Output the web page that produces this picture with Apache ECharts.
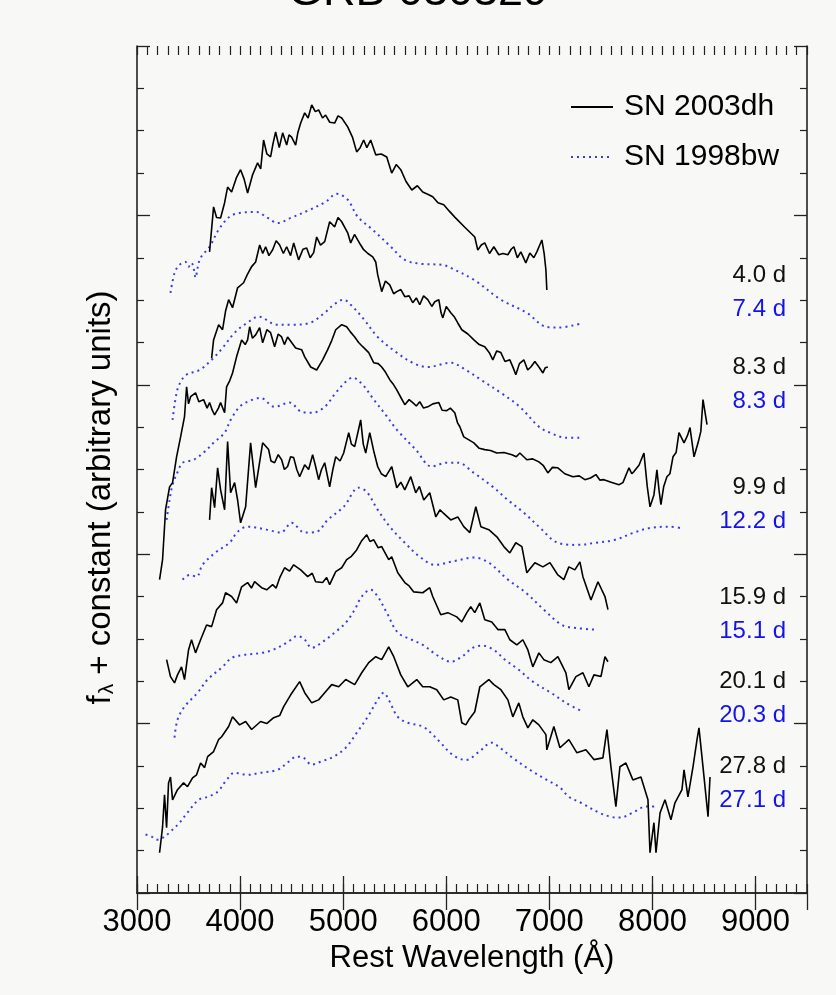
<!DOCTYPE html>
<html>
<head>
    <meta charset="utf-8">
    <title>GRB 030329</title>
    <script src="https://cdn.jsdelivr.net/npm/echarts@6/dist/echarts.min.js"></script>
    <style>
        html, body { margin: 0; padding: 0; background: #f8f9f7; }
        #main { width: 836px; height: 995px; }
    </style>
</head>
<body>
<div id="main"></div>
<script type="text/javascript">
    // epochs written next to each pair of spectra (top to bottom)
    var ages2003dh = ['4.0 d', '8.3 d', '9.9 d', '15.9 d', '20.1 d', '27.8 d'];
    var ages1998bw = ['7.4 d', '8.3 d', '12.2 d', '15.1 d', '20.3 d', '27.1 d'];
    var xTickLabels = [3000, 4000, 5000, 6000, 7000, 8000, 9000];

    // SN 2003dh spectra: [rest wavelength (A), f_lambda + constant]
    var dh_04 = [[3704,15.14],[3743,16.20],[3772,15.95],[3811,15.94],[3850,16.30],[3879,16.67],[3918,16.55],[3966,16.90],[4005,17.08],[4040,16.85],[4073,16.53],[4120,16.95],[4170,17.24],[4200,17.10],[4228,17.78],[4260,17.45],[4296,17.38],[4320,17.70],[4345,17.97],[4380,17.60],[4413,17.95],[4452,17.66],[4475,17.90],[4500,17.85],[4539,17.66],[4560,17.95],[4588,18.18],[4627,18.42],[4660,18.30],[4695,18.61],[4730,18.45],[4762,18.49],[4800,18.30],[4830,18.37],[4870,18.20],[4918,18.18],[4950,18.35],[4986,18.30],[5044,18.09],[5090,17.85],[5131,17.50],[5165,17.60],[5199,17.78],[5230,17.60],[5267,17.78],[5316,17.43],[5370,17.45],[5423,17.38],[5471,17.00],[5515,17.20],[5559,17.08],[5610,16.80],[5666,16.60],[5720,16.70],[5772,16.55],[5820,16.50],[5869,16.44],[5920,16.30],[5976,16.25],[6030,16.10],[6083,15.96],[6180,15.72],[6277,15.49],[6306,15.18],[6340,15.30],[6374,15.35],[6420,15.10],[6462,15.26],[6510,15.07],[6550,15.10],[6598,15.07],[6630,15.20],[6656,15.26],[6690,15.00],[6724,15.14],[6772,14.88],[6811,15.11],[6850,15.00],[6879,15.14],[6928,15.42],[6950,15.10],[6967,14.71],[6976,14.24]];
    var dh_08 = [[3724,12.63],[3743,13.06],[3792,13.42],[3830,13.30],[3860,13.75],[3889,14.01],[3927,13.82],[3976,14.29],[4034,14.41],[4070,14.60],[4112,14.79],[4151,14.90],[4190,15.30],[4220,15.10],[4248,15.26],[4280,15.05],[4316,15.19],[4350,15.40],[4384,15.30],[4420,15.10],[4452,15.26],[4490,15.05],[4520,15.35],[4568,14.95],[4610,15.20],[4646,15.23],[4680,15.00],[4714,15.12],[4743,15.49],[4780,15.30],[4821,15.38],[4869,15.85],[4918,15.73],[4950,15.95],[4986,15.85],[5044,15.59],[5073,15.35],[5110,15.55],[5141,15.42],[5170,15.30],[5199,15.19],[5240,15.10],[5287,15.02],[5316,14.90],[5335,14.60],[5374,14.20],[5410,14.45],[5452,14.36],[5490,14.15],[5520,14.20],[5560,14.25],[5598,14.08],[5640,14.10],[5675,13.94],[5710,14.05],[5743,13.89],[5780,14.10],[5821,14.01],[5860,13.85],[5889,13.96],[5928,14.01],[5950,13.70],[5967,13.58],[6000,13.85],[6044,13.70],[6080,13.60],[6112,13.46],[6151,13.30],[6210,13.20],[6268,13.06],[6320,12.95],[6374,12.90],[6420,12.75],[6452,12.59],[6490,12.80],[6530,12.76],[6570,12.55],[6617,12.59],[6650,12.40],[6675,12.24],[6710,12.50],[6753,12.59],[6790,12.35],[6821,12.42],[6860,12.55],[6899,12.42],[6938,12.28],[6960,12.40],[6986,12.42]];
    var dh_10 = [[3219,7.40],[3248,7.87],[3277,9.05],[3316,9.59],[3345,9.69],[3384,10.30],[3423,10.77],[3461,11.25],[3481,11.95],[3500,11.55],[3520,11.72],[3568,11.81],[3600,11.60],[3646,11.65],[3680,11.45],[3704,11.58],[3730,11.40],[3753,11.29],[3790,11.45],[3811,11.58],[3850,11.34],[3869,11.95],[3900,12.10],[3927,12.28],[3966,12.66],[4015,13.06],[4050,12.95],[4073,13.06],[4093,13.37],[4120,13.10],[4151,13.18],[4190,13.35],[4219,12.99],[4260,13.30],[4296,13.23],[4335,12.90],[4370,13.20],[4403,13.13],[4430,12.95],[4461,13.13],[4500,13.00],[4539,12.87],[4597,12.83],[4627,12.66],[4685,12.42],[4743,12.35],[4801,12.59],[4850,12.83],[4890,13.05],[4928,13.30],[4986,13.42],[5034,13.37],[5070,13.25],[5112,13.13],[5150,13.00],[5190,12.90],[5248,12.76],[5297,12.52],[5340,12.50],[5374,12.42],[5410,12.30],[5452,12.12],[5490,12.00],[5520,11.88],[5560,11.70],[5598,11.53],[5640,11.65],[5675,11.58],[5710,11.50],[5743,11.60],[5780,11.45],[5821,11.48],[5870,11.55],[5928,11.58],[5960,11.40],[6005,11.39],[6040,11.45],[6083,11.34],[6110,11.10],[6132,11.01],[6170,10.77],[6220,10.70],[6268,10.63],[6320,10.50],[6374,10.47],[6430,10.45],[6491,10.39],[6560,10.40],[6637,10.35],[6680,10.30],[6714,10.39],[6782,10.23],[6840,10.25],[6899,10.18],[6940,10.10],[6986,9.92],[7030,10.05],[7083,10.04],[7150,9.90],[7229,9.83],[7290,9.85],[7345,9.76],[7400,9.80],[7452,9.88],[7490,9.75],[7530,9.76],[7600,9.70],[7675,9.64],[7714,9.69],[7773,10.04],[7800,9.90],[7821,9.95],[7870,10.10],[7918,10.39],[7950,9.60],[7977,9.12],[8015,9.40],[8044,9.99],[8065,9.50],[8083,9.17],[8110,9.60],[8141,9.83],[8170,9.90],[8200,10.30],[8230,10.40],[8258,10.87],[8307,10.63],[8340,10.80],[8365,10.99],[8404,10.30],[8443,10.63],[8470,10.90],[8491,11.65],[8530,11.06]];
    var dh_16 = [[3704,8.81],[3724,9.57],[3753,9.10],[3782,10.04],[3811,9.52],[3850,9.05],[3879,10.66],[3908,9.45],[3947,9.69],[3976,9.28],[4005,8.74],[4054,9.12],[4102,10.63],[4151,9.57],[4219,10.63],[4277,10.47],[4300,10.20],[4335,10.16],[4370,10.35],[4403,10.23],[4430,10.00],[4461,10.07],[4490,10.30],[4520,10.28],[4550,10.00],[4578,9.83],[4627,10.11],[4665,10.00],[4704,10.35],[4730,10.10],[4762,9.76],[4790,10.00],[4821,10.16],[4869,9.59],[4900,10.00],[4928,10.30],[4970,10.20],[5005,10.39],[5054,10.87],[5080,10.60],[5112,10.54],[5170,11.17],[5195,10.60],[5219,10.39],[5258,10.87],[5300,10.40],[5335,10.07],[5370,9.90],[5413,9.83],[5471,10.07],[5520,9.57],[5560,9.70],[5598,9.52],[5656,9.83],[5704,9.45],[5740,9.60],[5782,9.28],[5840,9.45],[5899,8.88],[5940,9.05],[5967,8.98],[6044,8.81],[6112,8.88],[6170,8.65],[6229,8.51],[6287,9.12],[6336,8.65],[6413,8.58],[6491,8.41],[6559,8.18],[6617,8.03],[6675,8.27],[6734,8.18],[6782,7.56],[6860,7.80],[6938,7.70],[7006,7.80],[7083,7.51],[7141,7.40],[7190,7.70],[7248,7.63],[7297,7.82],[7326,7.47],[7404,6.92],[7472,7.35],[7540,7.00],[7569,6.69]];
    var dh_20 = [[3287,5.51],[3325,5.11],[3364,4.96],[3393,5.15],[3432,5.34],[3461,5.04],[3500,5.74],[3529,5.98],[3568,5.67],[3617,5.98],[3675,6.33],[3724,6.29],[3772,6.69],[3830,6.85],[3859,7.09],[3918,7.00],[3966,6.85],[4015,7.23],[4073,7.33],[4110,7.20],[4141,7.35],[4209,7.21],[4258,7.16],[4316,7.28],[4350,7.20],[4384,7.44],[4432,7.68],[4480,7.60],[4520,7.75],[4588,7.63],[4656,7.47],[4700,7.55],[4733,7.35],[4801,7.33],[4840,7.45],[4869,7.28],[4928,7.59],[4986,7.68],[5034,7.87],[5080,7.95],[5131,8.10],[5180,8.32],[5229,8.46],[5260,8.30],[5297,8.34],[5340,8.15],[5374,8.18],[5442,7.87],[5471,7.94],[5530,7.56],[5598,7.33],[5640,7.25],[5685,7.11],[5772,7.09],[5840,7.21],[5869,7.00],[5947,6.57],[6015,6.62],[6102,6.52],[6151,6.40],[6200,6.62],[6238,6.76],[6277,6.62],[6326,6.85],[6374,6.45],[6442,6.40],[6501,6.22],[6569,6.22],[6617,5.98],[6685,5.86],[6743,5.98],[6792,5.74],[6840,5.34],[6899,5.67],[6947,5.51],[7015,5.44],[7083,5.58],[7161,5.20],[7190,4.80],[7258,5.11],[7326,5.20],[7384,4.87],[7433,5.15],[7501,5.11],[7540,5.58],[7569,5.46]];
    var dh_28 = [[3219,0.95],[3248,1.56],[3267,2.32],[3287,1.54],[3306,2.60],[3325,2.74],[3345,2.20],[3393,2.44],[3452,2.60],[3490,2.51],[3539,2.72],[3578,2.79],[3617,3.07],[3656,2.96],[3685,3.22],[3743,3.34],[3791,3.62],[3821,3.69],[3889,3.93],[3927,4.16],[3995,3.97],[4054,4.05],[4112,3.86],[4199,4.05],[4258,4.00],[4326,4.14],[4384,4.19],[4423,4.40],[4491,4.68],[4578,4.99],[4627,4.73],[4695,4.49],[4762,4.56],[4821,4.73],[4889,4.92],[4957,4.87],[5025,5.04],[5112,4.92],[5180,5.20],[5248,5.44],[5316,5.58],[5374,5.51],[5442,5.81],[5491,5.58],[5559,5.15],[5627,4.87],[5714,5.04],[5772,4.87],[5840,4.87],[5908,4.80],[5976,4.56],[6044,4.63],[6112,4.56],[6151,4.02],[6190,3.97],[6219,4.09],[6277,4.28],[6326,4.87],[6413,5.04],[6462,4.92],[6530,4.80],[6598,4.56],[6646,4.16],[6704,4.49],[6743,4.16],[6792,3.90],[6840,4.09],[6899,3.97],[6967,3.74],[6976,3.38],[7044,3.93],[7103,3.43],[7190,3.62],[7268,3.31],[7355,3.38],[7433,3.15],[7520,3.19],[7559,3.86],[7598,2.98],[7646,2.04],[7685,2.98],[7743,3.07],[7811,2.67],[7889,2.74],[7957,2.20],[7977,0.95],[8015,1.66],[8035,0.95],[8074,1.89],[8122,2.20],[8180,1.73],[8219,2.13],[8287,2.44],[8307,2.91],[8345,2.27],[8394,2.98],[8433,3.62],[8452,3.90],[8491,2.98],[8540,1.80],[8559,2.74]];

    // SN 1998bw spectra
    var bw_07 = [[3325,14.17],[3364,14.64],[3403,14.81],[3442,14.88],[3471,14.90],[3500,14.79],[3529,14.88],[3549,14.76],[3568,14.53],[3588,14.76],[3617,15.00],[3704,15.26],[3792,15.66],[3898,15.97],[4005,16.06],[4160,16.08],[4267,15.94],[4364,15.82],[4491,15.94],[4656,16.11],[4830,16.32],[4937,16.51],[5044,16.37],[5141,15.97],[5287,15.66],[5462,15.26],[5598,14.95],[5743,14.86],[5967,14.83],[6044,14.76],[6268,14.48],[6530,14.01],[6782,13.70],[6967,13.37],[7083,13.35],[7326,13.46]];
    var bw_08 = [[3345,11.17],[3384,11.81],[3423,12.07],[3481,12.24],[3607,12.35],[3724,12.59],[3830,12.87],[3947,13.23],[4073,13.47],[4180,13.61],[4355,13.42],[4520,13.42],[4685,13.47],[4821,13.70],[4908,13.89],[5005,14.01],[5073,13.89],[5190,13.58],[5335,13.13],[5520,12.76],[5675,12.52],[5821,12.42],[6044,12.52],[6190,12.35],[6336,12.12],[6530,11.81],[6714,11.48],[6899,11.01],[7006,10.87],[7161,10.75],[7307,10.75]];
    var bw_12 = [[3287,8.81],[3316,9.28],[3345,9.64],[3403,9.99],[3442,10.16],[3549,10.23],[3656,10.42],[3743,10.63],[3850,10.87],[3908,11.17],[3995,11.48],[4073,11.60],[4199,11.69],[4335,11.48],[4481,11.58],[4597,11.36],[4704,11.34],[4821,11.48],[4928,11.81],[5025,12.07],[5093,12.17],[5190,12.00],[5297,11.65],[5413,11.29],[5520,10.94],[5704,10.47],[5860,10.07],[6005,10.16],[6112,10.16],[6268,9.92],[6452,9.59],[6598,9.28],[6753,8.98],[6899,8.65],[7083,8.27],[7268,8.22],[7452,8.27],[7637,8.34],[7821,8.51],[7977,8.62],[8161,8.65],[8268,8.62]];
    var bw_15 = [[3442,7.40],[3510,7.51],[3578,7.47],[3636,7.75],[3772,8.06],[3898,8.27],[3976,8.53],[4073,8.65],[4258,8.58],[4394,8.51],[4500,8.74],[4627,8.51],[4743,8.53],[4850,8.81],[5005,9.12],[5151,9.57],[5229,9.47],[5335,9.05],[5452,8.65],[5598,8.27],[5743,7.94],[5889,7.75],[6083,7.84],[6268,7.92],[6413,7.80],[6598,7.40],[6772,7.09],[6947,6.69],[7122,6.33],[7258,6.26],[7433,6.22]];
    var bw_20 = [[3364,3.67],[3393,4.09],[3461,4.40],[3588,4.73],[3685,5.04],[3830,5.34],[3918,5.55],[4034,5.62],[4209,5.67],[4316,5.74],[4452,5.91],[4559,6.07],[4627,5.98],[4695,5.79],[4801,5.93],[4918,6.15],[5025,6.38],[5112,6.69],[5180,7.00],[5267,7.16],[5335,7.00],[5423,6.62],[5530,6.15],[5666,5.98],[5772,5.86],[5908,5.62],[6044,5.46],[6151,5.58],[6258,5.79],[6355,5.84],[6462,5.74],[6569,5.51],[6704,5.27],[6840,4.99],[7015,4.73],[7161,4.49],[7326,4.28]];
    var bw_27 = [[3083,1.38],[3141,1.33],[3199,1.26],[3267,1.33],[3325,1.45],[3413,1.66],[3490,1.90],[3597,2.20],[3685,2.27],[3782,2.39],[3869,2.67],[3947,2.84],[4073,2.79],[4199,2.84],[4364,2.91],[4471,3.10],[4549,3.22],[4617,3.19],[4695,3.03],[4782,3.10],[4908,3.22],[5025,3.43],[5131,3.78],[5238,4.16],[5335,4.56],[5394,4.73],[5442,4.56],[5530,4.16],[5627,4.02],[5772,3.93],[5869,3.74],[5937,3.57],[6064,3.26],[6190,3.14],[6316,3.33],[6442,3.55],[6520,3.43],[6646,3.19],[6811,2.91],[6976,2.67],[7103,2.49],[7190,2.27],[7307,2.13],[7481,1.90],[7598,1.80],[7685,1.78],[7811,1.90],[7938,2.04],[8035,2.04]];

    var spectra2003dh = [dh_04, dh_08, dh_10, dh_16, dh_20, dh_28];
    var spectra1998bw = [bw_07, bw_08, bw_12, bw_15, bw_20, bw_27];

    var FONT = '"Liberation Sans", Arial, sans-serif';
    var BLUE_LINE = '#3b3be6';
    var BLUE_TEXT = '#1414e8';

    var myChart = echarts.init(document.getElementById('main'));

    var series = [];
    spectra2003dh.forEach(function (d) {
        series.push({
            name: 'SN 2003dh', type: 'line', data: d, symbol: 'none',
            lineStyle: { color: '#000', width: 1.6 }, itemStyle: { color: '#000' },
            silent: true, z: 3
        });
    });
    spectra1998bw.forEach(function (d) {
        series.push({
            name: 'SN 1998bw', type: 'line', data: d, symbol: 'none', smooth: 0.35,
            lineStyle: { color: BLUE_LINE, width: 2, type: [2, 4] }, itemStyle: { color: BLUE_LINE },
            silent: true, z: 2
        });
    });

    // age labels on the right (pixel centres of each pair)
    var labelY = [275, 367, 487, 597, 681, 766];
    var graphics = [{
        type: 'text', left: 'center', top: -30,
        style: { text: 'GRB 030329', font: '45px ' + FONT, fill: '#000' }
    }];
    labelY.forEach(function (y, i) {
        graphics.push({ type: 'text', x: 786, y: y, style: { text: ages2003dh[i], font: '24px ' + FONT, fill: '#111', align: 'right', verticalAlign: 'middle' } });
        graphics.push({ type: 'text', x: 786, y: y + 34, style: { text: ages1998bw[i], font: '24px ' + FONT, fill: BLUE_TEXT, align: 'right', verticalAlign: 'middle' } });
    });

    var xBase = { type: 'value', min: 3000, max: 9500, splitLine: { show: false } };
    var yBase = { type: 'value', min: 0, max: 20, interval: 4, splitLine: { show: false }, axisLabel: { show: false } };
    var axisLine = { show: true, lineStyle: { color: '#222', width: 1.6 } };

    var option = {
        backgroundColor: '#f8f9f7',
        animation: false,
        textStyle: { fontFamily: FONT },
        grid: { left: 137, right: 29, top: 46, bottom: 102 },
        legend: {
            data: ['SN 2003dh', 'SN 1998bw'], orient: 'vertical', left: 565, top: 87,
            itemWidth: 42, itemHeight: 14, itemGap: 20,
            itemStyle: { opacity: 0 },
            textStyle: { fontSize: 30, color: '#000', fontFamily: FONT, padding: [0, 0, 0, 6] }
        },
        xAxis: [
            Object.assign({}, xBase, {
                position: 'bottom', interval: 1000, axisLine: axisLine,
                axisTick: { inside: true, length: 17, lineStyle: { color: '#222', width: 1.3 } },
                axisLabel: {
                    fontSize: 31, color: '#000', margin: 14, showMaxLabel: false,
                    formatter: function (v) { return xTickLabels.indexOf(v) >= 0 ? String(v) : ''; }
                },
                name: 'Rest Wavelength (Å)', nameLocation: 'middle', nameGap: 47,
                nameTextStyle: { fontSize: 31, color: '#000' }
            }),
            Object.assign({}, xBase, {
                position: 'top', interval: 1000, axisLine: axisLine,
                axisTick: { inside: true, length: 17, lineStyle: { color: '#222', width: 1.3 } },
                axisLabel: { show: false }
            }),
            Object.assign({}, xBase, {
                position: 'bottom', interval: 100, axisLine: { show: false },
                axisTick: { inside: true, length: 9, lineStyle: { color: '#222', width: 1.2 } },
                axisLabel: { show: false }
            }),
            Object.assign({}, xBase, {
                position: 'top', interval: 100, axisLine: { show: false },
                axisTick: { inside: true, length: 9, lineStyle: { color: '#222', width: 1.2 } },
                axisLabel: { show: false }
            })
        ],
        yAxis: [
            Object.assign({}, yBase, {
                position: 'left', axisLine: axisLine,
                axisTick: { inside: true, length: 13, lineStyle: { color: '#222', width: 1.3 } },
                minorTick: { show: true, splitNumber: 4, length: 7, lineStyle: { color: '#222', width: 1.2 } },
                name: '{f|f}{sub|λ}{t| + constant (arbitrary units)}', nameLocation: 'middle', nameGap: 19,
                nameTextStyle: {
                    fontSize: 33, color: '#000', padding: [0, 56, 0, 0],
                    rich: {
                        f: { fontSize: 33, fontFamily: FONT, color: '#000' },
                        sub: { fontSize: 21, fontFamily: FONT, color: '#000', verticalAlign: 'bottom', padding: [13, 0, 0, 1] },
                        t: { fontSize: 33, fontFamily: FONT, color: '#000' }
                    }
                }
            }),
            Object.assign({}, yBase, {
                position: 'right', axisLine: axisLine,
                axisTick: { inside: true, length: 13, lineStyle: { color: '#222', width: 1.3 } },
                minorTick: { show: true, splitNumber: 4, length: 7, lineStyle: { color: '#222', width: 1.2 } }
            })
        ],
        graphic: graphics,
        series: series
    };

    myChart.setOption(option);
</script>
</body>
</html>
